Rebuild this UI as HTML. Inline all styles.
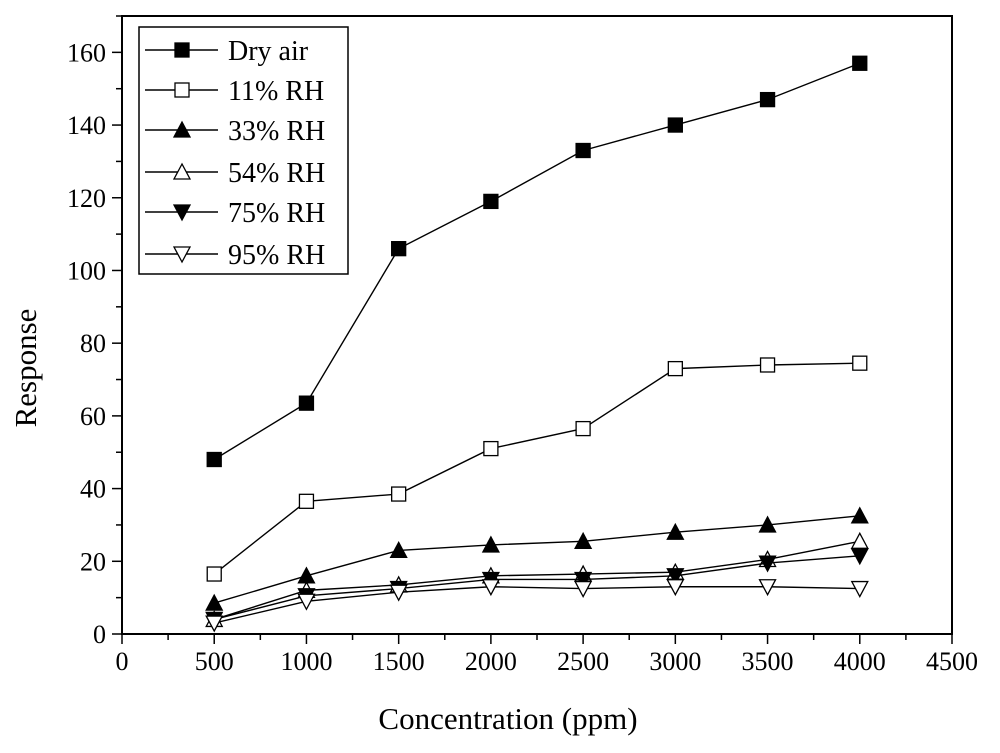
<!DOCTYPE html>
<html><head><meta charset="utf-8"><style>
html,body{margin:0;padding:0;background:#fff;}
svg{display:block;font-family:"Liberation Serif",serif;}
</style></head><body>
<svg id="chart" width="1000" height="753"></svg>
<script>
const xValues=[500,1000,1500,2000,2500,3000,3500,4000];
const seriesNames=["Dry air","11% RH","33% RH","54% RH","75% RH","95% RH"];
const dryAir=[48,63.5,106,119,133,140,147,157];
const rh11=[16.5,36.5,38.5,51,56.5,73,74,74.5];
const rh33=[8.5,16,23,24.5,25.5,28,30,32.5];
const rh54=[4,12,13.5,16,16.5,17,20.5,25.5];
const rh75=[4,10.5,12.5,15,15,16,19.5,21.5];
const rh95=[3,9,11.5,13,12.5,13,13,12.5];
const xTicks=[0,500,1000,1500,2000,2500,3000,3500,4000,4500];
const yTicks=[0,20,40,60,80,100,120,140,160];
const markers=["sqf","sq","triF","tri","dtriF","dtri"];
const allSeries=[dryAir,rh11,rh33,rh54,rh75,rh95];

const NS="http://www.w3.org/2000/svg";
const svg=document.getElementById('chart');
const L=122,R=952,T=16,B=634;
const X=v=>L+(v-0)/4500*(R-L);
const Y=v=>B-(v/170)*(B-T);
function mk(tag,a,parent){const e=document.createElementNS(NS,tag);for(const k in a)e.setAttribute(k,a[k]);(parent||svg).appendChild(e);return e;}

const frame=mk('rect',{x:L,y:T,width:R-L,height:B-T,fill:'none',stroke:'#000','stroke-width':2});



for(let v=0;v<=170;v+=10){
  const major=v%20===0;
  const t=mk('line',{x1:L,x2:L-(major?10:6),y1:Y(v),y2:Y(v),stroke:'#000','stroke-width':1.5});
  
  
}
yTicks.forEach(v=>{
  const t=mk('text',{x:L-16,y:Y(v)+9,'text-anchor':'end','font-size':26});
  t.textContent=v;
  
  
});
for(let v=0;v<=4500;v+=250){
  const major=v%500===0;
  const t=mk('line',{x1:X(v),x2:X(v),y1:B,y2:B+(major?10:6),stroke:'#000','stroke-width':1.5});
  
  
}
xTicks.forEach(v=>{
  const t=mk('text',{x:X(v),y:B+36,'text-anchor':'middle','font-size':26});
  t.textContent=v;
  
  
});
const yt=mk('text',{x:0,y:0,'font-size':31,'text-anchor':'middle',transform:'translate(36,368) rotate(-90)'});
yt.textContent='Response';


const xt=mk('text',{x:508,y:729,'font-size':31,'text-anchor':'middle'});
xt.textContent='Concentration (ppm)';



function marker(type,cx,cy,g){
  const s=7;let e;
  const fill=type.endsWith('F')||type==='sqf'?'#000':'#fff';
  if(type.startsWith('sq')) e=mk('rect',{x:cx-s,y:cy-s,width:2*s,height:2*s,fill,stroke:'#000','stroke-width':1.3},g);
  else if(type.startsWith('tri')) e=mk('polygon',{points:`${cx},${cy-s-1} ${cx-s-1},${cy+s} ${cx+s+1},${cy+s}`,fill,stroke:'#000','stroke-width':1.3},g);
  else e=mk('polygon',{points:`${cx},${cy+s+1} ${cx-s-1},${cy-s} ${cx+s+1},${cy-s}`,fill,stroke:'#000','stroke-width':1.3},g);
  return e;
}
allSeries.forEach((vals,i)=>{
  const g=mk('g',{});
  
  
  const pl=mk('polyline',{points:vals.map((v,j)=>X(xValues[j])+','+Y(v)).join(' '),fill:'none',stroke:'#000','stroke-width':1.4},g);
  
  
  vals.forEach((v,j)=>{
    const m=marker(markers[i],X(xValues[j]),Y(v),g);
    
    
  });
});

const lg=mk('g',{});


mk('rect',{x:139,y:27,width:209,height:247,fill:'#fff',stroke:'#000','stroke-width':1.5},lg);
const ly=[50,90,130,172,212,254];
seriesNames.forEach((n,i)=>{
  const e=mk('g',{},lg);
  
  
  mk('line',{x1:145,x2:218,y1:ly[i],y2:ly[i],stroke:'#000','stroke-width':1.4},e);
  marker(markers[i],182,ly[i],e);
  const t=mk('text',{x:228,y:ly[i]+10,'font-size':28},e);
  t.textContent=n;
});
</script>
</body></html>
